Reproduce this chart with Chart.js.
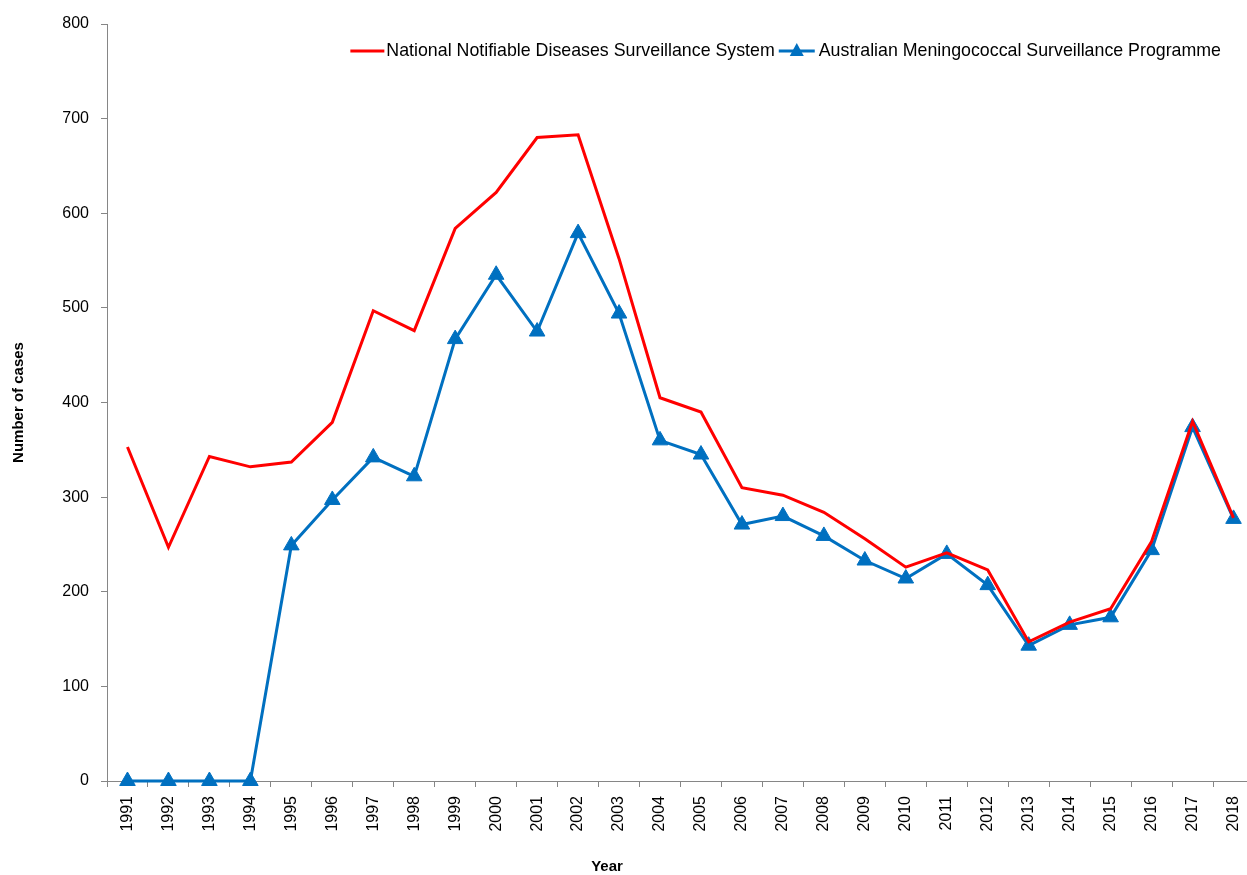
<!DOCTYPE html>
<html>
<head>
<meta charset="utf-8">
<script src="https://cdn.jsdelivr.net/npm/chart.js@4.4.1/dist/chart.umd.min.js"></script>
<style>
  html, body { margin: 0; padding: 0; background: #fff; overflow: hidden; }
  #wrap { width: 1247px; height: 875px; overflow: hidden; }
</style>
</head>
<body>
<div id="wrap"><canvas id="chart" width="1264" height="875"></canvas></div>
<script>
var years = ['1991', '1992', '1993', '1994', '1995', '1996', '1997', '1998', '1999', '2000',
  '2001', '2002', '2003', '2004', '2005', '2006', '2007', '2008', '2009', '2010',
  '2011', '2012', '2013', '2014', '2015', '2016', '2017', '2018'];

var nndss = [353, 247, 343, 332, 337, 379, 497, 476, 584, 622,
  680, 683, 552, 405, 390, 310, 302, 284, 256, 226,
  241, 223, 147, 168, 182, 253, 380, 278];

var amsp = [0, 0, 0, 0, 249, 297, 342, 322, 467, 535,
  475, 579, 494, 360, 345, 271, 280, 259, 233, 214,
  240, 207, 143, 165, 173, 244, 374, 277];

var seriesNames = ['National Notifiable Diseases Surveillance System', 'Australian Meningococcal Surveillance Programme'];
var xTitle = 'Year';

var axisGrey = '#868686';

// legend drawn inside the plot, top right, like the original
// plus the x title, which sits left of the axis centre in the original
var legendPlugin = {
  id: 'insideLegend',
  afterDraw: function (chart) {
    var ctx = chart.ctx;
    var y = 51;
    ctx.save();
    ctx.font = '17.8px "Liberation Sans", Arial, sans-serif';
    ctx.textBaseline = 'middle';
    ctx.fillStyle = '#000';
    var w1 = ctx.measureText(seriesNames[0]).width;
    var w2 = ctx.measureText(seriesNames[1]).width;
    var right = chart.chartArea.right - 33;
    var x2text = right - w2;
    var x2line = x2text - 40;
    var x1text = x2line - 4 - w1;
    var x1line = x1text - 36;

    ctx.lineWidth = 3;
    ctx.strokeStyle = '#FF0000';
    ctx.beginPath(); ctx.moveTo(x1line, y); ctx.lineTo(x1line + 34, y); ctx.stroke();
    ctx.fillText(seriesNames[0], x1text, y);

    ctx.strokeStyle = '#0070C0';
    ctx.beginPath(); ctx.moveTo(x2line, y); ctx.lineTo(x2line + 36, y); ctx.stroke();
    ctx.fillStyle = '#0070C0';
    var cx = x2line + 18;
    ctx.beginPath(); ctx.moveTo(cx, y - 8); ctx.lineTo(cx + 7, y + 5); ctx.lineTo(cx - 7, y + 5); ctx.closePath(); ctx.fill();
    ctx.fillStyle = '#000';
    ctx.fillText(seriesNames[1], x2text, y);

    ctx.font = 'bold 15px "Liberation Sans", Arial, sans-serif';
    ctx.textAlign = 'center';
    ctx.fillText(xTitle, 607, 867);
    ctx.restore();
  }
};

var ctx = document.getElementById('chart').getContext('2d');
new Chart(ctx, {
  type: 'line',
  data: {
    labels: years,
    datasets: [{
      label: seriesNames[0],
      data: nndss,
      borderColor: '#FF0000',
      backgroundColor: '#FF0000',
      borderWidth: 3,
      pointRadius: 0,
      tension: 0,
      clip: false
    }, {
      label: seriesNames[1],
      data: amsp,
      borderColor: '#0070C0',
      backgroundColor: '#0070C0',
      borderWidth: 3,
      pointStyle: 'triangle',
      pointRadius: 9,
      pointBorderWidth: 1,
      tension: 0,
      clip: false
    }]
  },
  options: {
    responsive: false,
    animation: false,
    layout: { padding: { top: 24, right: 0, bottom: 0, left: 10 } },
    plugins: {
      legend: { display: false },
      tooltip: { enabled: false }
    },
    scales: {
      x: {
        offset: true,
        grid: { offset: true, drawOnChartArea: false, tickLength: 6, color: axisGrey },
        border: { color: axisGrey, width: 1 },
        ticks: {
          color: '#000',
          minRotation: 90,
          maxRotation: 90,
          padding: 9,
          font: { family: '"Liberation Sans", Arial, sans-serif', size: 16 }
        },
        title: { display: false },
        afterFit: function (scale) { scale.height = 94; }
      },
      y: {
        min: 0,
        max: 800,
        ticks: {
          stepSize: 100,
          color: '#000',
          padding: 12,
          font: { family: '"Liberation Sans", Arial, sans-serif', size: 16 }
        },
        grid: { drawOnChartArea: false, tickLength: 6, color: axisGrey },
        border: { color: axisGrey, width: 1 },
        title: {
          display: true,
          text: 'Number of cases',
          color: '#000',
          padding: { top: 0, bottom: 0 },
          font: { family: '"Liberation Sans", Arial, sans-serif', size: 15, weight: 'bold' }
        },
        afterFit: function (scale) { scale.width = 97; }
      }
    }
  },
  plugins: [legendPlugin]
});
</script>
</body>
</html>
